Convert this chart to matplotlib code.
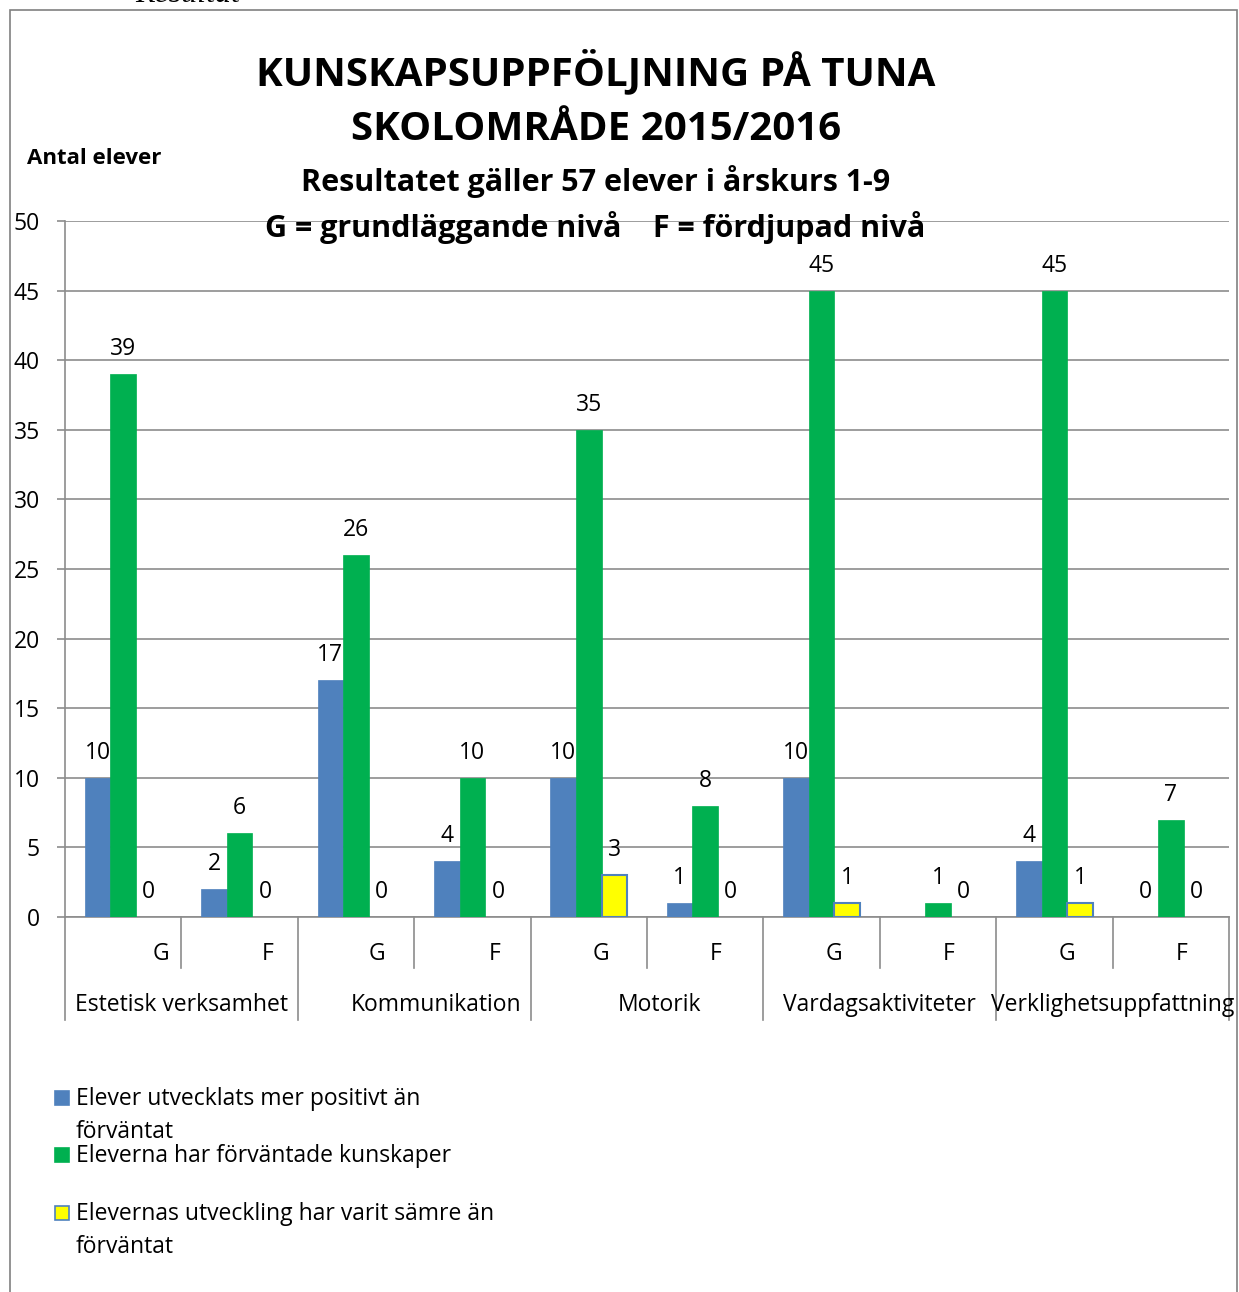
import matplotlib
matplotlib.use("Agg")
import matplotlib.pyplot as plt
from matplotlib.patches import Rectangle
from matplotlib.lines import Line2D
import numpy as np

# ---------------- data ----------------
groups = ["Estetisk verksamhet", "Kommunikation", "Motorik", "Vardagsaktiviteter", "Verklighetsuppfattning"]
levels = ["G", "F"]
series_names = ["Elever utvecklats mer positivt än\nförväntat",
                "Eleverna har förväntade kunskaper",
                "Elevernas utveckling har varit sämre än\nförväntat"]
better = [10, 2, 17, 4, 10, 1, 10, np.nan, 4, 0]
expected = [39, 6, 26, 10, 35, 8, 45, 1, 45, 7]
worse = [0, 0, 0, 0, 3, 0, 1, 0, 1, 0]
yticks = [0, 5, 10, 15, 20, 25, 30, 35, 40, 45, 50]

FONT = "Open Sans"
plt.rcParams['font.family'] = [FONT, 'DejaVu Sans']

W, H = 1239, 1292
fig = plt.figure(figsize=(W / 100, H / 100), dpi=100)

def fx(px):
    return px / W

def fy(py):
    return 1 - py / H

# outer border
fig.add_artist(Rectangle((fx(10), fy(1300)), fx(1237) - fx(10), fy(10) - fy(1300),
                         transform=fig.transFigure, fill=False, edgecolor="#808080", lw=1.2))
fig.text(fx(135), fy(-6), "Resultat", fontsize=23, family="Liberation Serif", style="italic",
         va="center", ha="left")

ax = fig.add_axes([fx(65), fy(917), fx(1229) - fx(65), fy(221) - fy(917)])

grid_c = "#8c8c8c"
colors = ["#4F81BD", "#00B050", "#FFFF00"]
edges = ["#4F81BD", "#00B050", "#4F81BD"]
data = [better, expected, worse]
n = len(expected)
x = np.arange(n) + 0.5
bw = 0.22
offs = [-bw, 0, bw]
lab_fs = 16.5
for vals, c, ec, o in zip(data, colors, edges, offs):
    v = np.array(vals, dtype=float)
    vv = np.nan_to_num(v)
    ecs = [ec if val > 0 else "none" for val in vv]
    ax.bar(x + o, vv, width=bw, color=c, edgecolor=ecs,
           linewidth=1.5 if c == "#FFFF00" else 0.5, zorder=3)
    for xi, vi in zip(x + o, v):
        if np.isnan(vi):
            continue
        ax.annotate(f"{int(vi)}", (xi, vi), xytext=(0, 18), textcoords="offset points",
                    ha="center", va="center", fontsize=lab_fs, zorder=4)

ax.set_xlim(0, n)
ax.set_ylim(0, 50)
ax.set_yticks(yticks)
ax.set_yticklabels([str(t) for t in yticks], fontsize=lab_fs)
ax.yaxis.grid(True, color=grid_c, lw=1.2, zorder=0)
ax.tick_params(axis="y", length=6, color=grid_c, pad=12, width=1.2)
ax.set_xticks([])
for s in ["top", "right"]:
    ax.spines[s].set_visible(False)
ax.spines["left"].set_color(grid_c)
ax.spines["left"].set_linewidth(1.2)
ax.spines["bottom"].set_color(grid_c)
ax.spines["bottom"].set_linewidth(1.2)

# category axis lines
tr = ax.get_xaxis_transform()
short = -(968 - 917) / 696
long_ = -(1020 - 917) / 696
for i in range(n + 1):
    y1 = long_ if i % 2 == 0 else short
    ax.add_line(Line2D([i, i], [0, y1], transform=tr, color=grid_c, lw=1.2, clip_on=False))
lvl_off = [0.32, 0.24, 0.18, 0.19, 0.1, 0.09, 0.11, 0.09, 0.11, 0.09]
for i in range(n):
    ax.text(x[i] + lvl_off[i], -(954 - 917) / 696, levels[i % 2], transform=tr,
            ha="center", va="center", fontsize=lab_fs)
grp_off = [0.0, 0.19, 0.11, 0.0, 0.0]
for g, name in enumerate(groups):
    ax.text(2 * g + 1 + grp_off[g], -(1005 - 917) / 696, name, transform=tr,
            ha="center", va="center", fontsize=lab_fs)

# titles
fig.text(fx(596), fy(71), "KUNSKAPSUPPFÖLJNING PÅ TUNA", fontsize=29, weight="bold",
         ha="center", va="center")
fig.text(fx(596), fy(129), "SKOLOMRÅDE 2015/2016", fontsize=29, weight="bold",
         ha="center", va="center")
fig.text(fx(596), fy(181), "Resultatet gäller 57 elever i årskurs 1-9", fontsize=22,
         weight="bold", ha="center", va="center")
fig.text(fx(595), fy(227), "G = grundläggande nivå    F = fördjupad nivå", fontsize=22,
         weight="bold", ha="center", va="center", zorder=10)
fig.text(fx(27), fy(159), "Antal elever", fontsize=16, weight="bold", ha="left", va="center")

# legend
leg_y = [1098, 1155, 1213]
for name, c, ec, yy in zip(series_names, colors, edges, leg_y):
    fig.add_artist(Rectangle((fx(55), fy(yy + 7)), fx(14), fy(0) - fy(14), transform=fig.transFigure,
                             facecolor=c, edgecolor=ec, lw=1.2))
    fig.text(fx(76), fy(yy - 11), name, fontsize=lab_fs, ha="left", va="top", linespacing=1.5)

fig.savefig("out.png", dpi=100)
